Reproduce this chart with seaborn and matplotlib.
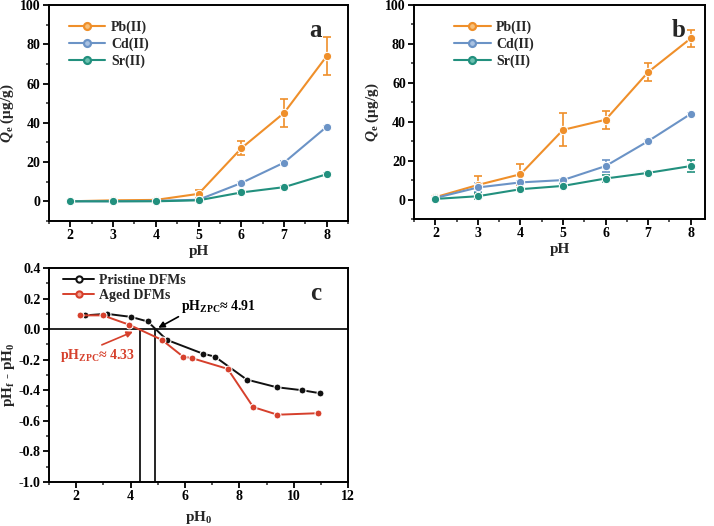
import numpy as np
import pandas as pd
import matplotlib
matplotlib.use("Agg")
import matplotlib.pyplot as plt
import seaborn as sns
from matplotlib.ticker import MultipleLocator, AutoMinorLocator

# panel a / b data (pH 2-8)
ph = [2, 3, 4, 5, 6, 7, 8]
ions = ["Pb(II)", "Cd(II)", "Sr(II)"]

a_pb = [0.0, 0.5, 0.7, 3.8, 27.0, 45.0, 74.0]
a_pb_err = [0.3, 0.4, 0.4, 2.0, 3.5, 7.0, 9.5]
a_cd = [0.0, 0.0, 0.2, 0.8, 9.3, 19.7, 38.0]
a_cd_err = [0.2, 0.2, 0.2, 0.3, 0.5, 0.6, 0.6]
a_sr = [0.0, 0.0, 0.0, 0.5, 4.5, 7.2, 13.8]
a_sr_err = [0.2, 0.2, 0.2, 0.3, 0.6, 0.5, 0.6]

b_pb = [1.2, 7.5, 13.0, 35.8, 41.0, 65.5, 82.8]
b_pb_err = [0.8, 4.5, 5.5, 8.5, 4.5, 4.5, 4.3]
b_cd = [0.8, 6.2, 8.8, 10.0, 17.2, 30.0, 44.0]
b_cd_err = [0.5, 2.5, 0.8, 0.8, 3.0, 0.6, 0.6]
b_sr = [0.3, 1.7, 5.3, 7.0, 10.8, 13.7, 17.2]
b_sr_err = [0.4, 1.5, 0.6, 0.8, 2.0, 0.6, 3.0]

# panel c data
pris_x = [2.31, 3.13, 4.02, 4.63, 5.33, 6.65, 7.10, 8.27, 9.37, 10.32, 10.98]
pris_y = [0.09, 0.10, 0.08, 0.05, -0.07, -0.16, -0.18, -0.33, -0.38, -0.40, -0.42]
aged_x = [2.15, 2.98, 3.93, 5.15, 5.93, 6.26, 7.57, 8.51, 9.40, 10.90]
aged_y = [0.09, 0.09, 0.03, -0.07, -0.18, -0.19, -0.26, -0.51, -0.56, -0.55]
zpc_pris = 4.91
zpc_aged = 4.33

colors = {"Pb(II)": "#ef8f2a", "Cd(II)": "#6b93c6", "Sr(II)": "#22907e"}
light = {"Pb(II)": "#f7c07a", "Cd(II)": "#a9c2e2", "Sr(II)": "#6cc0b0"}
black = "#111111"
red = "#d6402c"

sns.set_theme(style="ticks")
plt.rcParams["font.family"] = ["Liberation Serif", "DejaVu Serif"]
plt.rcParams["font.weight"] = "bold"
plt.rcParams["axes.labelweight"] = "bold"
plt.rcParams["axes.unicode_minus"] = False
plt.rcParams["mathtext.fontset"] = "custom"
plt.rcParams["mathtext.rm"] = "Liberation Serif:bold"
plt.rcParams["mathtext.it"] = "Liberation Serif:italic:bold"
plt.rcParams["mathtext.bf"] = "Liberation Serif:bold"

fig = plt.figure(figsize=(7.14, 5.26), dpi=100)
ax_a = fig.add_axes([0.0686, 0.580, 0.419, 0.4105])
ax_b = fig.add_axes([0.580, 0.5837, 0.407, 0.4068])
ax_c = fig.add_axes([0.0686, 0.0837, 0.419, 0.4068])


def style_axis(ax):
    for s in ax.spines.values():
        s.set_linewidth(1.4)
        s.set_color("black")
    ax.tick_params(which="major", length=4, width=1.3, direction="out",
                   labelsize=10, pad=2, colors="black")
    ax.tick_params(which="minor", length=2.5, width=1.1, direction="out")
    ax.xaxis.set_minor_locator(AutoMinorLocator(2))
    ax.yaxis.set_minor_locator(AutoMinorLocator(2))
    for lab in ax.get_xticklabels() + ax.get_yticklabels():
        lab.set_fontweight("bold")


def uptake_panel(ax, vals, errs, letter):
    df = pd.DataFrame({
        "pH": ph * 3,
        "Qe": vals[0] + vals[1] + vals[2],
        "ion": [ions[0]] * 7 + [ions[1]] * 7 + [ions[2]] * 7,
    })
    for ion, v, e in zip(ions, vals, errs):
        ax.errorbar(ph, v, yerr=e, fmt="none", ecolor=colors[ion],
                    elinewidth=1.2, capsize=3, capthick=1.2, zorder=2)
    sns.lineplot(data=df, x="pH", y="Qe", hue="ion", palette=colors,
                 marker="o", markersize=6, linewidth=1.5, ax=ax, zorder=3)
    for line, ion in zip(ax.get_lines()[-3:], ions):
        line.set_markerfacecolor(light[ion])
        line.set_markeredgecolor(colors[ion])
        line.set_markeredgewidth(1.6)
    ax.set_xlim(1.5, 8.5)
    ax.set_ylim(-10, 100)
    ax.xaxis.set_major_locator(MultipleLocator(1))
    ax.yaxis.set_major_locator(MultipleLocator(20))
    ax.set_xlabel("pH", fontsize=11, fontweight="bold", labelpad=2)
    ax.set_ylabel(r"$\mathit{Q}_\mathrm{e}$ (μg/g)", fontsize=11,
                  fontweight="bold", labelpad=3)
    handles, labels = ax.get_legend_handles_labels()
    for h, ion in zip(handles, labels):
        h.set_markerfacecolor(light[ion])
        h.set_markeredgecolor(colors[ion])
        h.set_markersize(5)
    ax.legend(handles, labels, loc="upper left", bbox_to_anchor=(0.04, 0.965),
              frameon=False, handlelength=2.6, handletextpad=0.4,
              labelspacing=0.25, borderaxespad=0.2,
              prop={"weight": "bold", "size": 10})
    ax.text(0.89, 0.88, letter, transform=ax.transAxes, fontsize=18,
            fontweight="bold", ha="center", va="center")
    style_axis(ax)


uptake_panel(ax_a, [a_pb, a_cd, a_sr], [a_pb_err, a_cd_err, a_sr_err], "a")
uptake_panel(ax_b, [b_pb, b_cd, b_sr], [b_pb_err, b_cd_err, b_sr_err], "b")
ax_b.set_xlim(1.5, 8.33)
ax_b.get_legend().set_bbox_to_anchor((0.11, 0.965))
ax_b.texts[0].set_position((0.91, 0.88))

# panel c
dfc = pd.DataFrame({
    "pH0": pris_x + aged_x,
    "dpH": pris_y + aged_y,
    "sample": ["Pristine DFMs"] * len(pris_x) + ["Aged DFMs"] * len(aged_x),
})
pal_c = {"Pristine DFMs": black, "Aged DFMs": red}
face_c = {"Pristine DFMs": "white", "Aged DFMs": "#f2a090"}
ax_c.axhline(0, color="black", linewidth=1.2, zorder=1)
ax_c.vlines([zpc_aged, zpc_pris], -1.0, 0, color="black", linewidth=1.2,
            zorder=1)
sns.lineplot(data=dfc, x="pH0", y="dpH", hue="sample", palette=pal_c,
             sort=False, marker="o", markersize=5, linewidth=1.4,
             ax=ax_c, zorder=3)
for line, key in zip(ax_c.get_lines()[-2:], ["Pristine DFMs", "Aged DFMs"]):
    line.set_markerfacecolor(face_c[key])
    line.set_markeredgecolor(pal_c[key])
    line.set_markeredgewidth(1.5)
handles, labels = ax_c.get_legend_handles_labels()
for h, key in zip(handles, labels):
    h.set_markerfacecolor(face_c[key])
    h.set_markeredgecolor(pal_c[key])
    h.set_markersize(4.5)
ax_c.legend(handles, labels, loc="upper left", bbox_to_anchor=(0.02, 1.01),
            frameon=False, handlelength=2.2, handletextpad=0.4,
            labelspacing=0.15, borderaxespad=0.2,
            prop={"weight": "bold", "size": 10})
ax_c.annotate("", xy=(zpc_pris + 0.02, 0.0), xytext=(5.85, 0.09),
              arrowprops=dict(arrowstyle="-|>", color="black", lw=1.2,
                              mutation_scale=9))
ax_c.text(5.85, 0.15, r"pH$_\mathrm{ZPC}$≈ 4.91", fontsize=10,
          fontweight="bold", color="black", ha="left", va="center")
ax_c.annotate("", xy=(zpc_aged - 0.15, -0.01), xytext=(2.85, -0.11),
              arrowprops=dict(arrowstyle="-|>", color=red, lw=1.2,
                              mutation_scale=9))
ax_c.text(1.4, -0.17, r"pH$_\mathrm{ZPC}$≈ 4.33", fontsize=10,
          fontweight="bold", color=red, ha="left", va="center")
ax_c.text(0.89, 0.88, "c", transform=ax_c.transAxes, fontsize=18,
          fontweight="bold", ha="center", va="center")
ax_c.set_xlim(1, 12)
ax_c.set_ylim(-1.0, 0.4)
ax_c.xaxis.set_major_locator(MultipleLocator(2))
ax_c.yaxis.set_major_locator(MultipleLocator(0.2))
ax_c.yaxis.set_major_formatter(plt.FormatStrFormatter("%.1f"))
ax_c.set_xlabel(r"pH$_\mathrm{0}$", fontsize=11, fontweight="bold",
                labelpad=4)
ax_c.set_ylabel(r"pH$_\mathrm{f}$ - pH$_\mathrm{0}$", fontsize=11,
                fontweight="bold", labelpad=1)
style_axis(ax_c)

fig.savefig("out.png", dpi=100)
